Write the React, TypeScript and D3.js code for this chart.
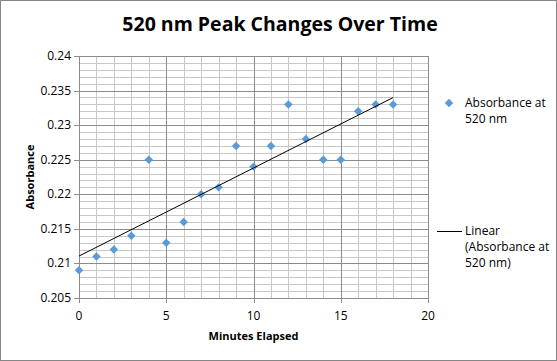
import React from "react";
import * as d3 from "d3";

const minutes = [0, 1, 2, 3, 4, 5, 6, 7, 8, 9, 10, 11, 12, 13, 14, 15, 16, 17, 18];
const absorbance = [0.209, 0.211, 0.212, 0.214, 0.225, 0.213, 0.216, 0.22, 0.221, 0.227, 0.224, 0.227, 0.233, 0.228, 0.225, 0.225, 0.232, 0.233, 0.233];
const xTicks = [0, 5, 10, 15, 20];
const yTicks = [0.205, 0.21, 0.215, 0.22, 0.225, 0.23, 0.235, 0.24];

const width = 557;
const height = 361;
const left = 79;
const right = 428;
const top = 56;
const bottom = 298;
const font = "'Open Sans', 'Liberation Sans', sans-serif";

export default function App() {
  const x = d3.scaleLinear().domain([0, 20]).range([left, right]);
  const y = d3.scaleLinear().domain([0.205, 0.24]).range([bottom, top]);

  // least squares trendline (Excel "Linear")
  const mx = d3.mean(minutes)!;
  const my = d3.mean(absorbance)!;
  const sxy = d3.sum(minutes, (m, i) => (m - mx) * (absorbance[i] - my));
  const sxx = d3.sum(minutes, (m) => (m - mx) ** 2);
  const slope = sxy / sxx;
  const icpt = my - slope * mx;
  const x0 = minutes[0], x1 = minutes[minutes.length - 1];

  const minorX = d3.range(0, 21, 1);
  const minorY = d3.range(0, 36).map((i) => 0.205 + i * 0.001);
  const diamond = d3.symbol().type(d3.symbolSquare).size(36)()!;

  return (
    <svg width={width} height={height} style={{ position: "absolute", left: 0, top: 0 }}>
      <rect x={0.5} y={0.5} width={width - 1} height={height - 1} fill="#fff" stroke="#868686" />
      <text x={280} y={31} textAnchor="middle" fontFamily={font} fontWeight="bold" fontSize={19.5}>
        520 nm Peak Changes Over Time
      </text>
      {minorY.map((v, i) => (
        <line key={"my" + i} x1={left} x2={right} y1={Math.round(y(v)) + 0.5} y2={Math.round(y(v)) + 0.5} stroke="#c8c8c8" />
      ))}
      {minorX.map((v, i) => (
        <line key={"mx" + i} y1={top} y2={bottom} x1={Math.round(x(v)) + 0.5} x2={Math.round(x(v)) + 0.5} stroke="#c8c8c8" />
      ))}
      {yTicks.map((v, i) => (
        <g key={"yt" + i}>
          <line x1={left - 5} x2={right} y1={Math.round(y(v)) + 0.5} y2={Math.round(y(v)) + 0.5} stroke="#8c8c8c" />
          <text x={left - 8} y={y(v) + 4} textAnchor="end" fontFamily={font} fontSize={12}>{v}</text>
        </g>
      ))}
      {xTicks.map((v, i) => (
        <g key={"xt" + i}>
          <line y1={top} y2={bottom + 5} x1={Math.round(x(v)) + 0.5} x2={Math.round(x(v)) + 0.5} stroke="#8c8c8c" />
          <text x={x(v)} y={bottom + 22} textAnchor="middle" fontFamily={font} fontSize={12}>{v}</text>
        </g>
      ))}
      {minutes.map((m, i) => (
        <path key={"p" + i} d={diamond} transform={`translate(${x(m)},${y(absorbance[i])}) rotate(45)`} fill="#5b9bd5" />
      ))}
      <line x1={x(x0)} y1={y(icpt + slope * x0)} x2={x(x1)} y2={y(icpt + slope * x1)} stroke="#000" strokeWidth={1} />
      <text x={(left + right) / 2} y={340} textAnchor="middle" fontFamily={font} fontWeight="bold" fontSize={11}>
        Minutes Elapsed
      </text>
      <text transform={`translate(34,${(top + bottom) / 2}) rotate(-90)`} textAnchor="middle" fontFamily={font} fontWeight="bold" fontSize={11}>
        Absorbance
      </text>
      <path d={diamond} transform="translate(449,103) rotate(45)" fill="#5b9bd5" />
      <text x={465} y={107} fontFamily={font} fontSize={12}>Absorbance at</text>
      <text x={465} y={123} fontFamily={font} fontSize={12}>520 nm</text>
      <line x1={437} x2={462} y1={231.5} y2={231.5} stroke="#000" />
      <text x={465} y={235} fontFamily={font} fontSize={12}>Linear</text>
      <text x={465} y={251} fontFamily={font} fontSize={12}>(Absorbance at</text>
      <text x={465} y={267} fontFamily={font} fontSize={12}>520 nm)</text>
    </svg>
  );
}
